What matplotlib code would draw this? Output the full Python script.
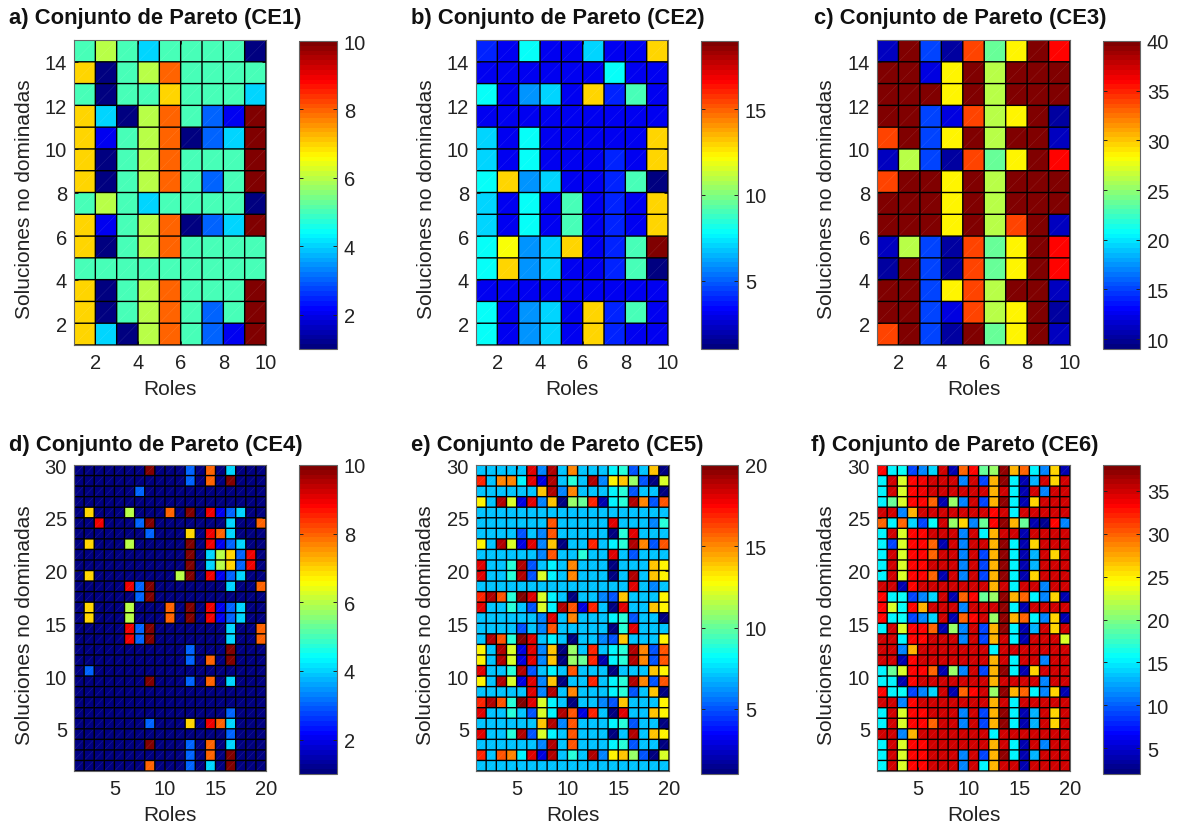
import numpy as np
import matplotlib
matplotlib.use("Agg")
import matplotlib.pyplot as plt
from matplotlib.cm import ScalarMappable
from matplotlib.collections import LineCollection
from matplotlib.colors import Normalize, LinearSegmentedColormap

plt.rcParams['font.family'] = ['Liberation Sans', 'DejaVu Sans']

# rows are listed from the top of each panel downwards
ce1 = [
 [5,6,5,4,5,5,5,5,1],
 [7,1,5,6,8,5,5,5,5],
 [5,1,5,5,7,5,5,5,4],
 [7,4,1,6,8,5,3,2,10],
 [7,2,5,6,8,1,3,4,10],
 [7,1,5,6,8,5,5,5,10],
 [7,1,5,6,8,5,3,5,10],
 [5,6,5,4,5,5,5,5,1],
 [7,2,5,6,8,1,3,4,10],
 [7,1,5,6,8,5,5,5,5],
 [5,5,5,5,5,5,5,5,5],
 [7,1,5,6,8,5,5,5,10],
 [7,1,5,6,8,5,3,5,10],
 [7,4,1,6,8,5,3,2,10],
]
ce2 = [
 [4,3,8,3,3,7,3,3,13],
 [3,3,3,3,3,3,8,3,3],
 [8,3,6,7,3,13,4,9,3],
 [3,3,3,3,3,3,3,3,3],
 [7,3,8,3,3,3,3,3,13],
 [7,3,8,3,3,3,4,3,13],
 [8,13,6,7,3,3,4,9,1],
 [7,3,8,3,9,3,4,3,13],
 [7,3,8,3,9,3,4,3,13],
 [8,12,6,7,13,3,4,9,19],
 [8,13,6,7,3,3,4,9,1],
 [3,3,3,3,3,3,3,3,3],
 [8,3,6,7,3,13,4,9,3],
 [8,3,6,7,3,13,4,3,3],
]
ce3 = [
 [11,40,15,10,34,24,28.5,40,36],
 [40,40,12,28.5,40,26,40,40,40],
 [40,40,40,28.5,40,26,40,40,40],
 [40,40,15,12,34,26,28.5,40,10],
 [34,40,15,28.5,40,26,40,40,11],
 [11,26,15,10,34,24,28.5,40,36],
 [34,40,40,28.5,40,26,40,40,40],
 [40,40,40,28.5,40,26,40,40,40],
 [40,40,40,28.5,40,26,34,40,11],
 [11,26,15,10,34,24,28.5,40,36],
 [10,40,15,10,34,24,28.5,40,36],
 [40,40,15,28.5,34,26,40,40,11],
 [40,40,15,12,34,26,28.5,40,10],
 [34,40,15,10,40,24,28.5,40,11],
]
ce4 = [
 [1,1,1,1,1,1,1,10,1,1,1,3,1,8,1,4,1,1,1],
 [1,1,1,1,1,1,1,1,1,1,1,3,1,8,1,10,1,1,1],
 [1,1,1,1,1,1,3,1,1,1,1,1,1,1,1,1,1,1,1],
 [1,1,1,1,1,1,1,1,1,1,1,1,1,1,1,1,1,1,1],
 [1,7,1,1,1,6,1,1,1,8,1,10,1,9,2,3,4,1,1],
 [1,1,9,1,1,1,3,10,1,1,1,1,1,1,1,4,1,1,8],
 [1,1,1,1,1,1,1,3,1,1,1,7,1,9,8,4,1,1,1],
 [1,7,1,1,1,6,1,1,1,1,1,10,1,9,2,3,4,1,1],
 [1,1,1,1,1,1,1,1,1,1,1,10,1,4,6,7,3,9,1],
 [1,1,1,1,1,1,1,1,1,1,1,10,1,4,6,7,3,9,1],
 [1,7,1,1,1,1,1,1,1,1,6,10,1,9,2,3,4,1,1],
 [1,1,1,1,1,9,3,10,1,1,1,1,1,1,1,4,1,1,8],
 [1,1,1,1,1,1,3,10,1,1,1,1,1,1,1,1,1,1,1],
 [1,7,1,1,1,6,1,1,1,8,1,10,1,9,2,3,4,1,1],
 [1,7,1,1,1,6,1,1,1,8,1,10,1,9,2,3,4,1,1],
 [1,1,1,1,1,9,3,10,1,1,1,1,1,1,1,4,1,1,8],
 [1,1,1,1,1,9,3,10,1,1,1,1,1,1,1,4,1,1,8],
 [1,1,1,1,1,1,1,1,1,1,1,3,1,1,1,10,1,1,1],
 [1,1,1,1,1,1,1,1,1,1,1,3,1,8,1,10,1,1,1],
 [1,3,1,1,1,1,1,1,1,1,1,1,1,1,1,1,1,1,1],
 [1,1,1,1,1,1,1,10,1,1,1,3,1,8,1,4,1,1,1],
 [1,1,1,1,1,1,1,1,1,1,1,1,1,1,1,1,1,1,1],
 [1,1,1,1,1,1,1,1,1,1,1,1,1,1,1,1,1,1,1],
 [1,1,1,1,1,1,1,1,1,1,1,1,1,1,1,3,1,1,1],
 [1,1,1,1,1,1,1,3,1,1,1,7,1,9,8,4,1,1,1],
 [1,1,1,1,1,1,1,1,1,1,1,1,1,1,1,3,1,1,1],
 [1,1,1,1,1,1,1,10,1,1,1,3,1,8,1,4,1,1,1],
 [1,1,1,1,1,1,1,1,1,1,1,3,1,8,1,10,1,1,1],
 [1,1,1,1,1,1,1,8,1,1,1,3,1,4,1,10,1,1,1],
]
ce5 = [
 [7,7,7,7,7,18,6,19,7,15,7,7,7,8,9,5,7,14,1],
 [17,7,15,15,8,18,3,19,7,9,7,19,6,13,14,11,5,1,12],
 [7,7,7,7,7,7,14,19,6,15,7,7,7,8,9,5,7,7,1],
 [13,7,19,12,3,18,6,14,1,11,10,17,2,8,9,19,15,5,16],
 [7,7,7,7,7,7,7,7,7,7,7,7,7,7,7,7,7,7,7],
 [7,7,7,7,7,7,7,16,7,7,7,7,7,18,7,7,7,6,9],
 [7,7,7,7,5,7,6,16,7,7,7,7,7,1,9,18,7,7,7],
 [13,7,19,12,3,18,6,14,1,7,7,17,7,8,9,19,15,5,16],
 [7,7,7,7,7,7,6,16,7,7,9,7,7,18,7,5,7,7,7],
 [18,7,7,9,19,5,7,8,7,15,7,7,7,1,7,7,7,14,13],
 [18,7,7,9,19,5,12,8,7,15,7,7,7,1,7,19,7,14,13],
 [7,7,7,7,7,7,7,7,7,7,7,7,7,7,7,18,7,6,7],
 [17,19,16,9,20,18,12,8,7,1,7,7,6,5,14,7,7,7,13],
 [18,7,7,9,7,5,12,8,19,16,3,17,7,1,18,7,7,14,13],
 [7,7,7,7,7,7,6,18,7,15,7,7,7,8,9,5,7,7,1],
 [7,7,7,7,5,7,6,16,7,7,7,7,7,1,9,18,7,7,7],
 [7,19,16,9,20,18,7,8,7,1,7,7,6,5,14,7,7,7,13],
 [13,7,19,12,3,18,6,14,1,11,7,17,7,8,9,19,15,5,16],
 [13,7,19,12,3,18,6,14,1,11,10,17,2,8,9,19,15,5,16],
 [18,7,7,9,19,5,7,8,7,16,7,7,7,1,7,7,7,14,13],
 [13,7,19,12,3,18,6,14,1,7,7,17,7,8,9,19,15,5,16],
 [7,7,7,7,7,18,6,19,7,15,7,7,7,8,9,5,7,14,1],
 [17,19,16,9,20,18,12,8,7,1,7,7,6,5,14,7,7,7,13],
 [18,7,7,9,7,5,12,8,19,16,3,17,7,1,18,7,7,14,13],
 [7,7,7,7,7,7,14,19,6,16,7,7,7,8,9,5,7,7,1],
 [18,7,7,9,19,5,12,8,7,16,7,7,7,1,7,19,7,14,13],
 [7,7,7,7,7,7,6,19,7,16,7,7,7,8,9,5,7,7,1],
 [17,7,16,15,8,18,3,19,7,9,7,19,6,13,14,11,5,1,12],
 [7,7,7,7,7,7,7,7,7,7,7,7,7,7,7,7,7,7,7],
]
ce6 = [
 [33,15,16,9,11,14,35,4,30,33,19,21,37,27,30,15,11,26,4],
 [15,35,23,33,34,35,35,35,11,35,9,27,37,15,4,13,35,26,35],
 [15,35,23,33,34,35,35,35,35,35,35,27,35,15,4,35,11,35,35],
 [15,19,23,33,33,30,4,21,11,35,9,27,37,15,4,26,35,35,35],
 [35,35,11,27,35,35,35,35,35,35,35,33,35,15,35,35,35,35,35],
 [30,15,30,14,9,16,35,21,26,11,19,33,37,27,19,4,3,33,11],
 [15,35,23,33,33,35,35,35,11,35,15,27,35,35,4,35,35,35,35],
 [15,9,23,33,33,30,4,35,11,35,35,27,37,15,4,26,35,35,35],
 [15,35,23,33,33,30,35,35,11,35,9,27,37,15,4,13,35,26,35],
 [15,35,23,33,33,35,35,35,11,35,9,27,37,15,4,13,35,35,35],
 [15,35,23,33,33,30,4,35,11,35,9,27,37,15,4,26,35,35,35],
 [35,35,4,33,35,35,35,35,35,35,35,27,35,15,35,35,11,35,35],
 [33,15,16,9,11,14,35,4,30,33,19,21,37,27,30,15,11,26,4],
 [33,23,16,33,27,35,35,35,11,35,35,35,37,15,4,35,35,35,35],
 [33,15,16,9,11,14,35,4,30,33,35,21,37,27,30,15,11,26,4],
 [15,35,23,33,33,30,4,21,11,35,9,27,37,15,4,13,35,26,35],
 [35,35,15,33,33,35,35,35,11,35,9,27,35,15,4,35,35,35,23],
 [35,35,11,27,35,35,35,35,35,35,35,15,35,35,35,35,35,35,35],
 [35,35,4,33,35,35,35,35,35,35,35,27,35,15,35,35,11,35,35],
 [15,19,23,33,33,30,4,21,11,35,9,27,37,15,4,26,35,35,35],
 [15,15,4,33,35,35,35,35,35,35,35,27,35,35,35,35,11,35,35],
 [33,15,16,9,11,14,35,4,30,33,35,21,37,27,30,15,11,26,4],
 [35,35,11,33,35,35,35,35,35,35,35,27,35,15,35,35,35,35,35],
 [15,35,23,33,33,35,35,35,11,35,9,27,37,15,4,13,35,26,35],
 [15,35,23,33,33,30,35,35,11,35,9,27,37,15,4,13,35,26,35],
 [35,35,11,27,35,35,35,35,35,35,35,15,35,35,35,35,35,35,35],
 [15,35,23,33,33,35,35,35,35,35,35,27,35,15,4,35,11,35,35],
 [15,35,23,33,33,35,35,35,11,35,9,27,37,15,4,13,35,35,35],
 [15,35,23,33,33,35,35,35,11,35,15,27,35,35,4,35,35,35,35],
]

titles = ['a) Conjunto de Pareto (CE1)', 'b) Conjunto de Pareto (CE2)', 'c) Conjunto de Pareto (CE3)',
          'd) Conjunto de Pareto (CE4)', 'e) Conjunto de Pareto (CE5)', 'f) Conjunto de Pareto (CE6)']
datasets = [ce1, ce2, ce3, ce4, ce5, ce6]
limits = [(1, 10), (1, 19), (9, 40), (1, 10), (1, 20), (2, 38)]
cbar_ticks = [[2, 4, 6, 8, 10], [5, 10, 15], [10, 15, 20, 25, 30, 35, 40],
              [2, 4, 6, 8, 10], [5, 10, 15, 20], [5, 10, 15, 20, 25, 30, 35]]
x_ticks = [[2, 4, 6, 8, 10]] * 3 + [[5, 10, 15, 20]] * 3
y_ticks = [[2, 4, 6, 8, 10, 12, 14]] * 3 + [[5, 10, 15, 20, 25, 30]] * 3
x_label = 'Roles'
y_label = 'Soluciones no dominadas'

W, H = 1177, 829
left_px = [74, 476, 877, 74, 476, 877]
right_px = [266, 668, 1070, 266, 669, 1070]
top_px = [41, 41, 41, 466, 466, 466]
bot_px = [346, 346, 346, 772, 772, 772]
title_px = [9, 411, 814, 9, 411, 811]
title_y_px = [24, 24, 24, 451, 451, 451]
cb_left = [299, 701, 1103, 299, 701, 1103]
cb_right = [337, 738, 1140, 337, 738, 1140]
cb_top = [42, 42, 42, 466, 466, 466]
cb_bot = [350, 350, 350, 775, 775, 775]

# MATLAB-style jet with 64 levels
cmap = LinearSegmentedColormap.from_list(
    'matlab_jet',
    [(0.0, (0, 0, 0.5)), (0.125, (0, 0, 1)), (0.375, (0, 1, 1)), (0.625, (1, 1, 0)),
     (0.875, (1, 0, 0)), (1.0, (0.5, 0, 0))], N=64)

fig = plt.figure(figsize=(W / 100, H / 100), dpi=100)


def box(l, r, t, b):
    return [l / W, 1 - b / H, (r - l) / W, (b - t) / H]


for i in range(6):
    ax = fig.add_axes(box(left_px[i], right_px[i], top_px[i], bot_px[i]))
    z = np.array(datasets[i], dtype=float)[::-1]
    xe = np.arange(1, z.shape[1] + 2)
    ye = np.arange(1, z.shape[0] + 2)
    vmin, vmax = limits[i]
    ax.pcolormesh(xe, ye, z, cmap=cmap, vmin=vmin, vmax=vmax, linewidth=0)
    # faint diagonal seam in every cell
    segs = [[(x, y), (x + 1, y + 1)] for x in xe[:-1] for y in ye[:-1]]
    ax.add_collection(LineCollection(segs, colors='white', linewidths=0.4, alpha=0.12))
    # cell borders, not snapped to the pixel grid so that all have the same weight
    vl = ax.vlines(xe, ye[0], ye[-1], colors='black', linewidth=1.0)
    hl = ax.hlines(ye, xe[0], xe[-1], colors='black', linewidth=1.0)
    vl.set_snap(False)
    hl.set_snap(False)
    ax.set_xlim(xe[0], xe[-1])
    ax.set_ylim(ye[0], ye[-1])
    ax.set_xticks(x_ticks[i])
    ax.set_yticks(y_ticks[i])
    ax.tick_params(axis='both', direction='in', length=3, width=0.7, labelsize=14.5, top=True, right=True,
                   colors='#222222')
    ax.tick_params(axis='x', pad=6)
    ax.tick_params(axis='y', pad=5)
    for s in ax.spines.values():
        s.set_edgecolor('#666666')
        s.set_linewidth(0.8)
        s.set_zorder(5)
    ax.set_xlabel(x_label, fontsize=15, color='#222222')
    ax.set_ylabel(y_label, fontsize=15, color='#222222')
    ax.xaxis.set_label_coords(0.5, -0.112)
    ax.yaxis.set_label_coords(-0.21, 0.48)
    fig.text(title_px[i] / W, 1 - title_y_px[i] / H, titles[i], fontsize=15.8, fontweight='bold',
             color='#111111', ha='left', va='baseline')

    cax = fig.add_axes(box(cb_left[i], cb_right[i], cb_top[i], cb_bot[i]))
    cb = fig.colorbar(ScalarMappable(Normalize(vmin, vmax), cmap), cax=cax)
    cb.set_ticks(cbar_ticks[i])
    cb.ax.tick_params(direction='in', length=3, width=0.7, labelsize=14.5, colors='#222222', pad=5,
                      left=True, right=True)
    cb.outline.set_edgecolor('#666666')
    cb.outline.set_linewidth(0.8)

fig.savefig('out.png', dpi=100)
